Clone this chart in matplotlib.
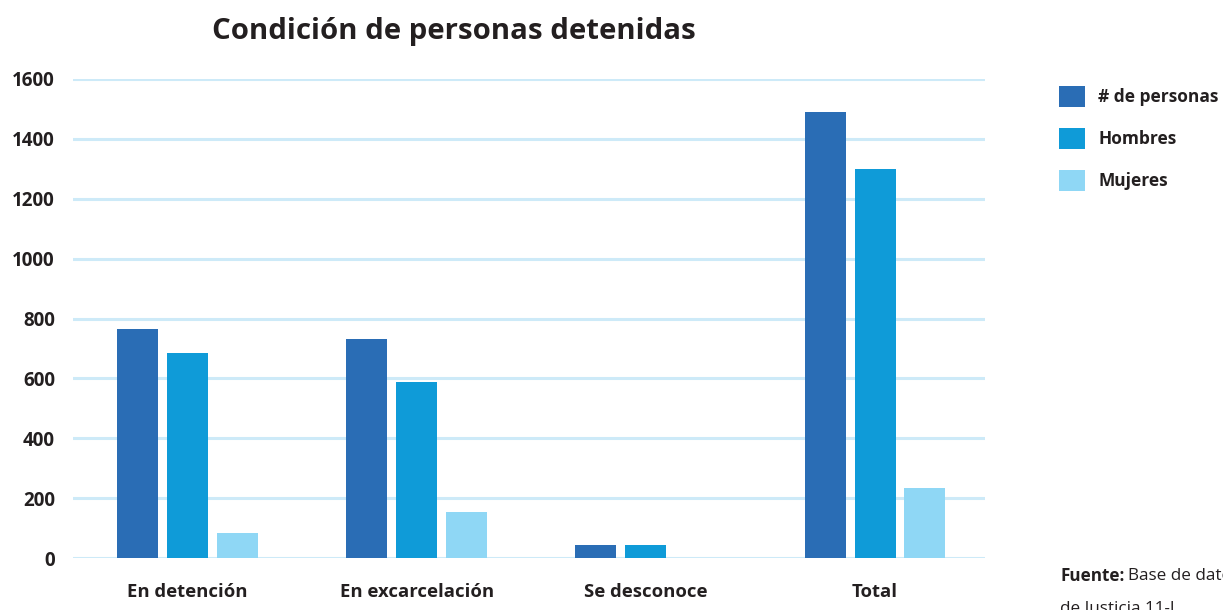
import matplotlib
matplotlib.use("Agg")
import matplotlib.pyplot as plt
import numpy as np

plt.rcParams['font.family'] = ['Open Sans', 'DejaVu Sans']

# Data
categories = ['En detención', 'En excarcelación', 'Se desconoce', 'Total']
series = ['# de personas', 'Hombres', 'Mujeres']
personas = [765, 731, 43, 1490]
hombres = [685, 588, 43, 1300]
mujeres = [83, 154, 0, 234]
colors = ['#2a6db5', '#0f9bd8', '#8fd7f5']

text_color = '#231f20'
grid_color = '#cdeaf8'

fig = plt.figure(figsize=(12.23, 6.10), dpi=100)
ax = fig.add_axes([73 / 1223, 1 - 558 / 610, (985 - 73) / 1223, (558 - 79) / 610])

x = np.arange(len(categories))
width = 0.179
offset = 0.218
for i, (vals, name) in enumerate(zip([personas, hombres, mujeres], series)):
    ax.bar(x + (i - 1) * offset, vals, width, color=colors[i], label=name, zorder=3)

ax.set_xlim(-0.5, 3.48)
ax.set_ylim(0, 1600)
ax.set_yticks(range(0, 1601, 200))
ax.grid(axis='y', color=grid_color, linewidth=2.2, zorder=0)
ax.set_axisbelow(True)
for s in ax.spines.values():
    s.set_visible(False)
ax.tick_params(axis='both', length=0, labelcolor=text_color)
ax.tick_params(axis='y', pad=13, labelsize=13.5)
ax.tick_params(axis='x', pad=18, labelsize=13.3)
ax.set_xticks(x)
ax.set_xticklabels(categories)
for lbl in ax.get_xticklabels() + ax.get_yticklabels():
    lbl.set_fontweight('bold')

fig.text(454 / 1223, 1 - 31 / 610, 'Condición de personas detenidas', ha='center', va='center',
         fontsize=21.2, fontweight='bold', color=text_color)

fig.legend(loc='upper left', bbox_to_anchor=(1059 / 1223, 1 - 86 / 610), frameon=False,
           handlelength=1.5, handleheight=1.5, handletextpad=0.75, labelspacing=1.2,
           borderaxespad=0, borderpad=0,
           prop={'weight': 'bold', 'size': 12.5}, labelcolor=text_color)

# source note, clipped at the right and bottom edges like the original
src = fig.text(1060 / 1223, 1 - 576 / 610, 'Fuente:', ha='left', va='center', fontsize=12.3,
               fontweight='bold', color=text_color)
fig.canvas.draw()
bb = src.get_window_extent()
fig.text(bb.x1 / fig.bbox.width + 4 / 1223, 1 - 576 / 610, 'Base de datos', ha='left', va='center',
         fontsize=12.3, color=text_color)
fig.text(1060 / 1223, 1 - 601 / 610, 'de Justicia 11-J', ha='left', va='top', fontsize=12.3,
         color=text_color)

fig.savefig('out.png', dpi=100)
